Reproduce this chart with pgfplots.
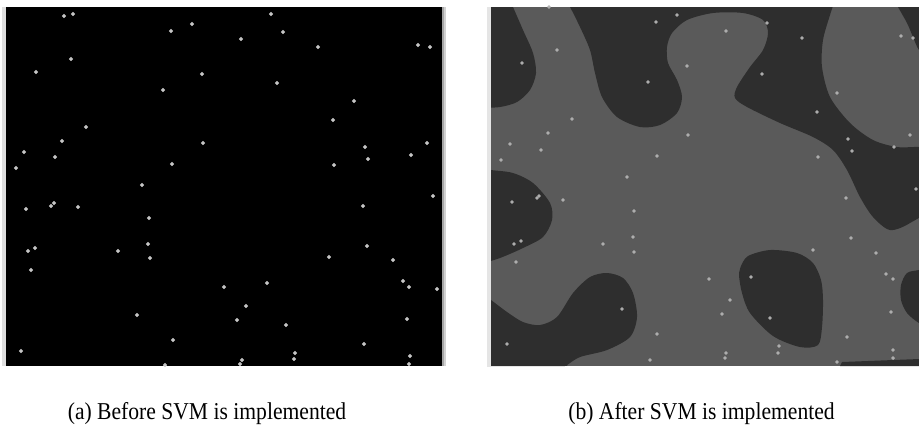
\documentclass[border=0pt]{standalone}
\usepackage{pgfplots}
\pgfplotsset{compat=1.18}
\usepackage{fontspec}
\setmainfont{Liberation Serif}

\definecolor{lightreg}{HTML}{5A5A5A}
\definecolor{darkreg}{HTML}{2E2E2E}
\definecolor{dotL}{HTML}{C8C8C8}
\definecolor{dotR}{HTML}{B0B0B0}

% one image pixel = 0.5pt, y runs downwards as in the picture
\pgfplotsset{panel/.style={x=0.5pt, y=0.5pt, y dir=reverse, hide axis,
  ymin=7, ymax=366, anchor=north west}}

\begin{document}
\begin{tikzpicture}
\path[use as bounding box] (0,0) rectangle (459.5pt,-220pt);

% (a) before SVM
\begin{axis}[panel, xmin=2, xmax=446, at={(1pt,-3.5pt)}]
  \addplot[fill=gray!25, draw=none] coordinates {(2,7)(6,7)(6,366)(2,366)} -- cycle;
  \addplot[fill=black, draw=none] coordinates {(6,7)(442,7)(442,366)(6,366)} -- cycle;
  \addplot[fill=gray!70, draw=none] coordinates {(442,7)(444,7)(444,366)(442,366)} -- cycle;
  \addplot[fill=gray!35, draw=none] coordinates {(444,7)(446,7)(446,366)(444,366)} -- cycle;
  \addplot[only marks, mark=*, mark size=0.75pt, dotL] coordinates {
    (64,16)(73,14)(192,24)(171,31)(271,14)(283,32)(241,39)(318,47)(418,45)(430,47)
    (71,59)(36,72)(202,74)(163,90)(277,83)(354,101)(333,120)(86,127)(62,141)(203,143)
    (365,147)(427,143)(24,152)(55,157)(368,159)(411,155)(16,168)(172,164)(334,165)
    (142,185)(433,196)(51,206)(54,203)(78,207)(26,209)(363,206)(149,218)(28,251)
    (35,248)(118,251)(148,244)(150,258)(367,246)(329,257)(393,260)(31,270)(224,287)
    (267,283)(403,281)(409,287)(437,289)(246,306)(137,315)(237,320)(286,325)(407,319)
    (173,340)(21,351)(364,344)(295,353)(294,359)(242,360)(240,364)(410,356)(409,364)
    (165,365)};
\end{axis}

% (b) after SVM
\begin{axis}[panel, xmin=487, xmax=919, at={(243.5pt,-3.5pt)}]
  \addplot[fill=lightreg, draw=none] coordinates {(487,7)(919,7)(919,366)(487,366)} -- cycle;
  % dark regions
  \addplot[smooth, fill=darkreg, draw=none] coordinates {
    (480,0)(510,0)(513,7)(523,30)(533,53)(536,73)(530,90)(517,102)(500,107)(480,108)} -- cycle;
  \addplot[smooth, fill=darkreg, draw=none] coordinates {
    (565,0)(570,7)(580,27)(590,50)(595,73)(602,97)(617,117)(640,127)(660,125)(677,113)
    (682,97)(677,80)(668,63)(667,47)(672,33)(687,20)(713,13)(743,13)(763,20)(768,33)
    (763,50)(750,67)(737,87)(735,98)(747,107)(780,123)(813,137)(833,150)(847,170)
    (860,197)(873,217)(890,230)(910,223)(930,205)(930,150)(919,147)(897,147)(873,140)
    (850,123)(830,97)(822,67)(823,40)(830,15)(835,0)} -- cycle;
  \addplot[smooth, fill=darkreg, draw=none] coordinates {
    (895,0)(898,7)(907,23)(913,37)(919,50)(930,58)(930,0)} -- cycle;
  \addplot[smooth, fill=darkreg, draw=none] coordinates {
    (480,168)(491,170)(513,173)(533,183)(550,203)(552,220)(543,237)(523,248)(500,258)(480,264)} -- cycle;
  \addplot[smooth, fill=darkreg, draw=none] coordinates {
    (488,298)(491,300)(507,312)(523,322)(540,325)(557,317)(573,293)(590,277)(607,273)
    (623,278)(633,293)(637,317)(630,337)(607,350)(580,357)(567,365)(563,366)(488,366)} -- cycle;
  \addplot[smooth, fill=darkreg, draw=none] coordinates {
    (741,266)(748,256)(770,250)(797,253)(813,263)(821,280)(823,300)(822,327)(818,345)
    (800,347)(773,336)(750,313)(742,293)(739,275)(741,266)} -- cycle;
  \addplot[smooth, fill=darkreg, draw=none] coordinates {
    (930,268)(919,270)(907,273)(901,285)(901,300)(907,313)(919,323)(930,326)} -- cycle;
  \addplot[fill=darkreg, draw=none] coordinates {
    (840,366)(842,362)(919,359)(919,366)} -- cycle;
  \addplot[fill=gray!20, draw=none] coordinates {(486,6)(491,6)(491,368)(486,368)} -- cycle;
  \addplot[only marks, mark=*, mark size=0.7pt, dotR] coordinates {
    (549,7)(677,15)(656,22)(767,23)(726,31)(802,38)(901,36)(913,38)(557,50)(522,63)
    (687,66)(762,74)(648,82)(837,93)(817,112)(572,119)(548,133)(688,135)(910,135)
    (510,144)(848,139)(541,150)(852,151)(894,147)(657,156)(818,157)(501,160)(627,177)
    (916,189)(846,198)(539,196)(537,198)(512,202)(563,200)(634,211)(851,238)(633,237)
    (603,244)(514,244)(521,241)(634,252)(813,250)(876,253)(516,262)(751,277)(709,279)
    (886,274)(893,279)(730,300)(622,309)(722,314)(891,312)(770,318)(657,334)(847,337)
    (507,344)(779,346)(778,353)(893,350)(726,353)(725,358)(893,358)(650,360)(837,362)};
\end{axis}

\node[font=\fontsize{10.8}{13}\selectfont] at (103.5pt,-207pt) {\scalebox{1}[1.12]{(a) Before SVM is implemented}};
\node[font=\fontsize{10.8}{13}\selectfont] at (350.75pt,-207pt) {\scalebox{1}[1.12]{(b) After SVM is implemented}};
\end{tikzpicture}
\end{document}
